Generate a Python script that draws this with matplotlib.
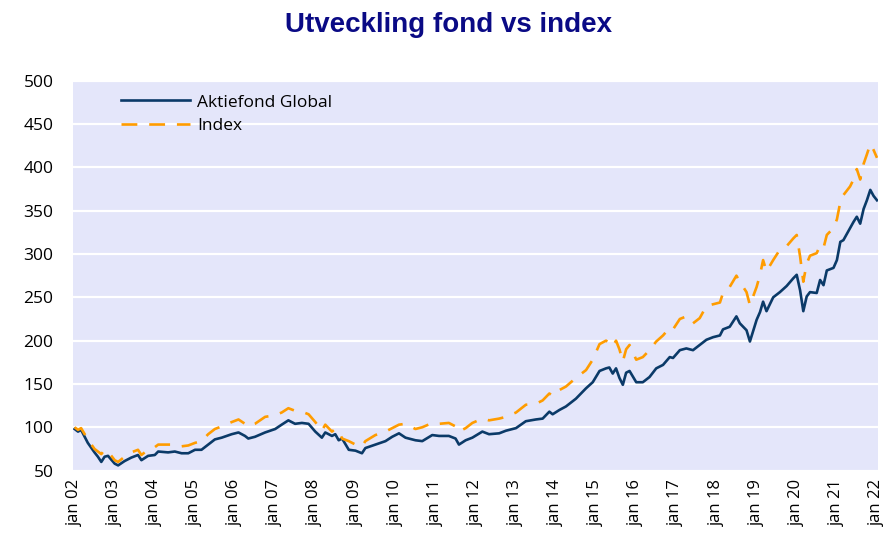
import matplotlib
matplotlib.use('Agg')
import matplotlib.pyplot as plt
import pandas as pd

# month (YYYY-MM) and values
dates = [
    "2002-01", "2002-02", "2002-03", "2002-05", "2002-07", "2002-08", "2002-09", "2002-10", "2002-11",
    "2003-01", "2003-02", "2003-04", "2003-06", "2003-08", "2003-09", "2003-11",
    "2004-01", "2004-02", "2004-05", "2004-07", "2004-09", "2004-11",
    "2005-01", "2005-03", "2005-05", "2005-07", "2005-09", "2005-12",
    "2006-02", "2006-04", "2006-05", "2006-07", "2006-10",
    "2007-01", "2007-03", "2007-05", "2007-07", "2007-09", "2007-11",
    "2008-01", "2008-03", "2008-04", "2008-06", "2008-07", "2008-08", "2008-09", "2008-11",
    "2009-01", "2009-03", "2009-04", "2009-07", "2009-10", "2009-12",
    "2010-02", "2010-04", "2010-07", "2010-09", "2010-12",
    "2011-02", "2011-05", "2011-07", "2011-08", "2011-10", "2011-12",
    "2012-03", "2012-05", "2012-08", "2012-10",
    "2013-01", "2013-04", "2013-07", "2013-09", "2013-11", "2013-12",
    "2014-02", "2014-04", "2014-07", "2014-10", "2014-12",
    "2015-02", "2015-04", "2015-05", "2015-06", "2015-07", "2015-08", "2015-09", "2015-10", "2015-11",
    "2016-01", "2016-03", "2016-05", "2016-07", "2016-09", "2016-11", "2016-12",
    "2017-02", "2017-04", "2017-06", "2017-08", "2017-10", "2017-12",
    "2018-02", "2018-03", "2018-05", "2018-07", "2018-08", "2018-09", "2018-10", "2018-11",
    "2019-01", "2019-02", "2019-03", "2019-04", "2019-06", "2019-08", "2019-10", "2019-12",
    "2020-01", "2020-02", "2020-03", "2020-04", "2020-05", "2020-07", "2020-08", "2020-09",
    "2020-10", "2020-12",
    "2021-01", "2021-02", "2021-03", "2021-05", "2021-06", "2021-07", "2021-08", "2021-09",
    "2021-10", "2021-11", "2021-12", "2022-01",
]

fund = [
    98, 95, 97, 82, 71, 66, 60, 66, 67,
    58, 56, 61, 65, 68, 62, 67,
    68, 72, 71, 72, 70, 70,
    74, 74, 80, 86, 88, 92,
    94, 90, 87, 89, 94,
    98, 103, 108, 104, 105, 104,
    95, 88, 94, 90, 92, 85, 87, 74,
    73, 70, 76, 80, 84, 89,
    93, 88, 85, 84, 91,
    90, 90, 87, 80, 85, 88,
    95, 92, 93, 96,
    99, 107, 109, 110, 118, 115,
    120, 124, 133, 145, 152,
    165, 168, 169, 162, 168, 157, 149, 163, 165,
    152, 152, 158, 168, 172, 181, 180,
    189, 191, 189, 195, 201, 204,
    206, 213, 216, 228, 220, 216, 212, 199,
    224, 233, 245, 234, 250, 256, 263, 272,
    276, 258, 234, 251, 256, 255, 270, 264,
    281, 284,
    293, 314, 316, 330, 337, 343, 335, 352,
    362, 374, 367, 362,
]

index = [
    100, 97, 99, 86, 75, 72, 69, 74, 72,
    62, 60, 66, 71, 74, 68, 74,
    77, 80, 80, 80, 78, 79,
    82, 84, 92, 98, 101, 106,
    109, 104, 101, 104, 112,
    114, 117, 122, 119, 118, 115,
    106, 96, 103, 95, 98, 96, 87, 84,
    80, 78, 84, 91, 95, 99,
    103, 104, 98, 100, 105,
    104, 105, 101, 95, 99, 105,
    110, 108, 110, 112,
    117, 126, 127, 131, 139, 136,
    143, 147, 157, 166, 178,
    196, 200, 197, 193, 200, 190, 176, 190, 195,
    178, 181, 189, 199, 206, 215, 213,
    225, 228, 220, 226, 240, 242,
    244, 255, 262, 275, 268, 262, 256, 241,
    262, 276, 293, 280, 293, 305, 309, 318,
    322, 297, 268, 289, 298, 301, 310, 307,
    322, 330,
    340, 360, 368, 378, 386, 398, 386, 404,
    415, 427, 420, 411,
]

years = list(range(2002, 2023))
year_labels = ["jan %02d" % (y % 100) for y in years]

x = pd.to_datetime(dates, format="%Y-%m")
ticks = pd.to_datetime([f"{y}-01" for y in years], format="%Y-%m")

fig = plt.figure(figsize=(8.91, 5.35), dpi=100)
ax = fig.add_axes([0.0819, 0.1204, 0.9035, 0.7287])
ax.set_facecolor("#E4E6FA")

ax.plot(x, fund, color="#0B3A68", lw=1.9, label="Aktiefond Global", zorder=3)
ax.plot(x, index, color="#FF9C00", lw=1.9, dashes=(6, 4.5), label="Index", zorder=3)

ax.set_ylim(50, 500)
ax.set_yticks(range(50, 501, 50))
ax.set_xlim(pd.Timestamp("2001-12-17"), pd.Timestamp("2022-01-10"))
ax.set_xticks(ticks)
ax.set_xticklabels(year_labels, rotation=90)

ax.grid(axis="y", color="white", lw=1.6)
ax.set_axisbelow(True)
for s in ax.spines.values():
    s.set_visible(False)
ax.tick_params(length=0, labelsize=12.5)
ax.tick_params(axis="y", pad=14)
ax.tick_params(axis="x", pad=6, labelsize=12)
for lab in ax.get_xticklabels() + ax.get_yticklabels():
    lab.set_fontfamily("Open Sans")

leg = ax.legend(loc="upper left", bbox_to_anchor=(0.04, 1.005), frameon=False,
                handlelength=4.0, handletextpad=0.4, labelspacing=0.4,
                prop={"family": "Open Sans", "size": 12.5})

fig.suptitle("Utveckling fond vs index", x=0.503, y=0.978, fontsize=20,
             fontweight="bold", color="#0A0A85", family="Liberation Sans")

fig.savefig("out.png", dpi=100)
